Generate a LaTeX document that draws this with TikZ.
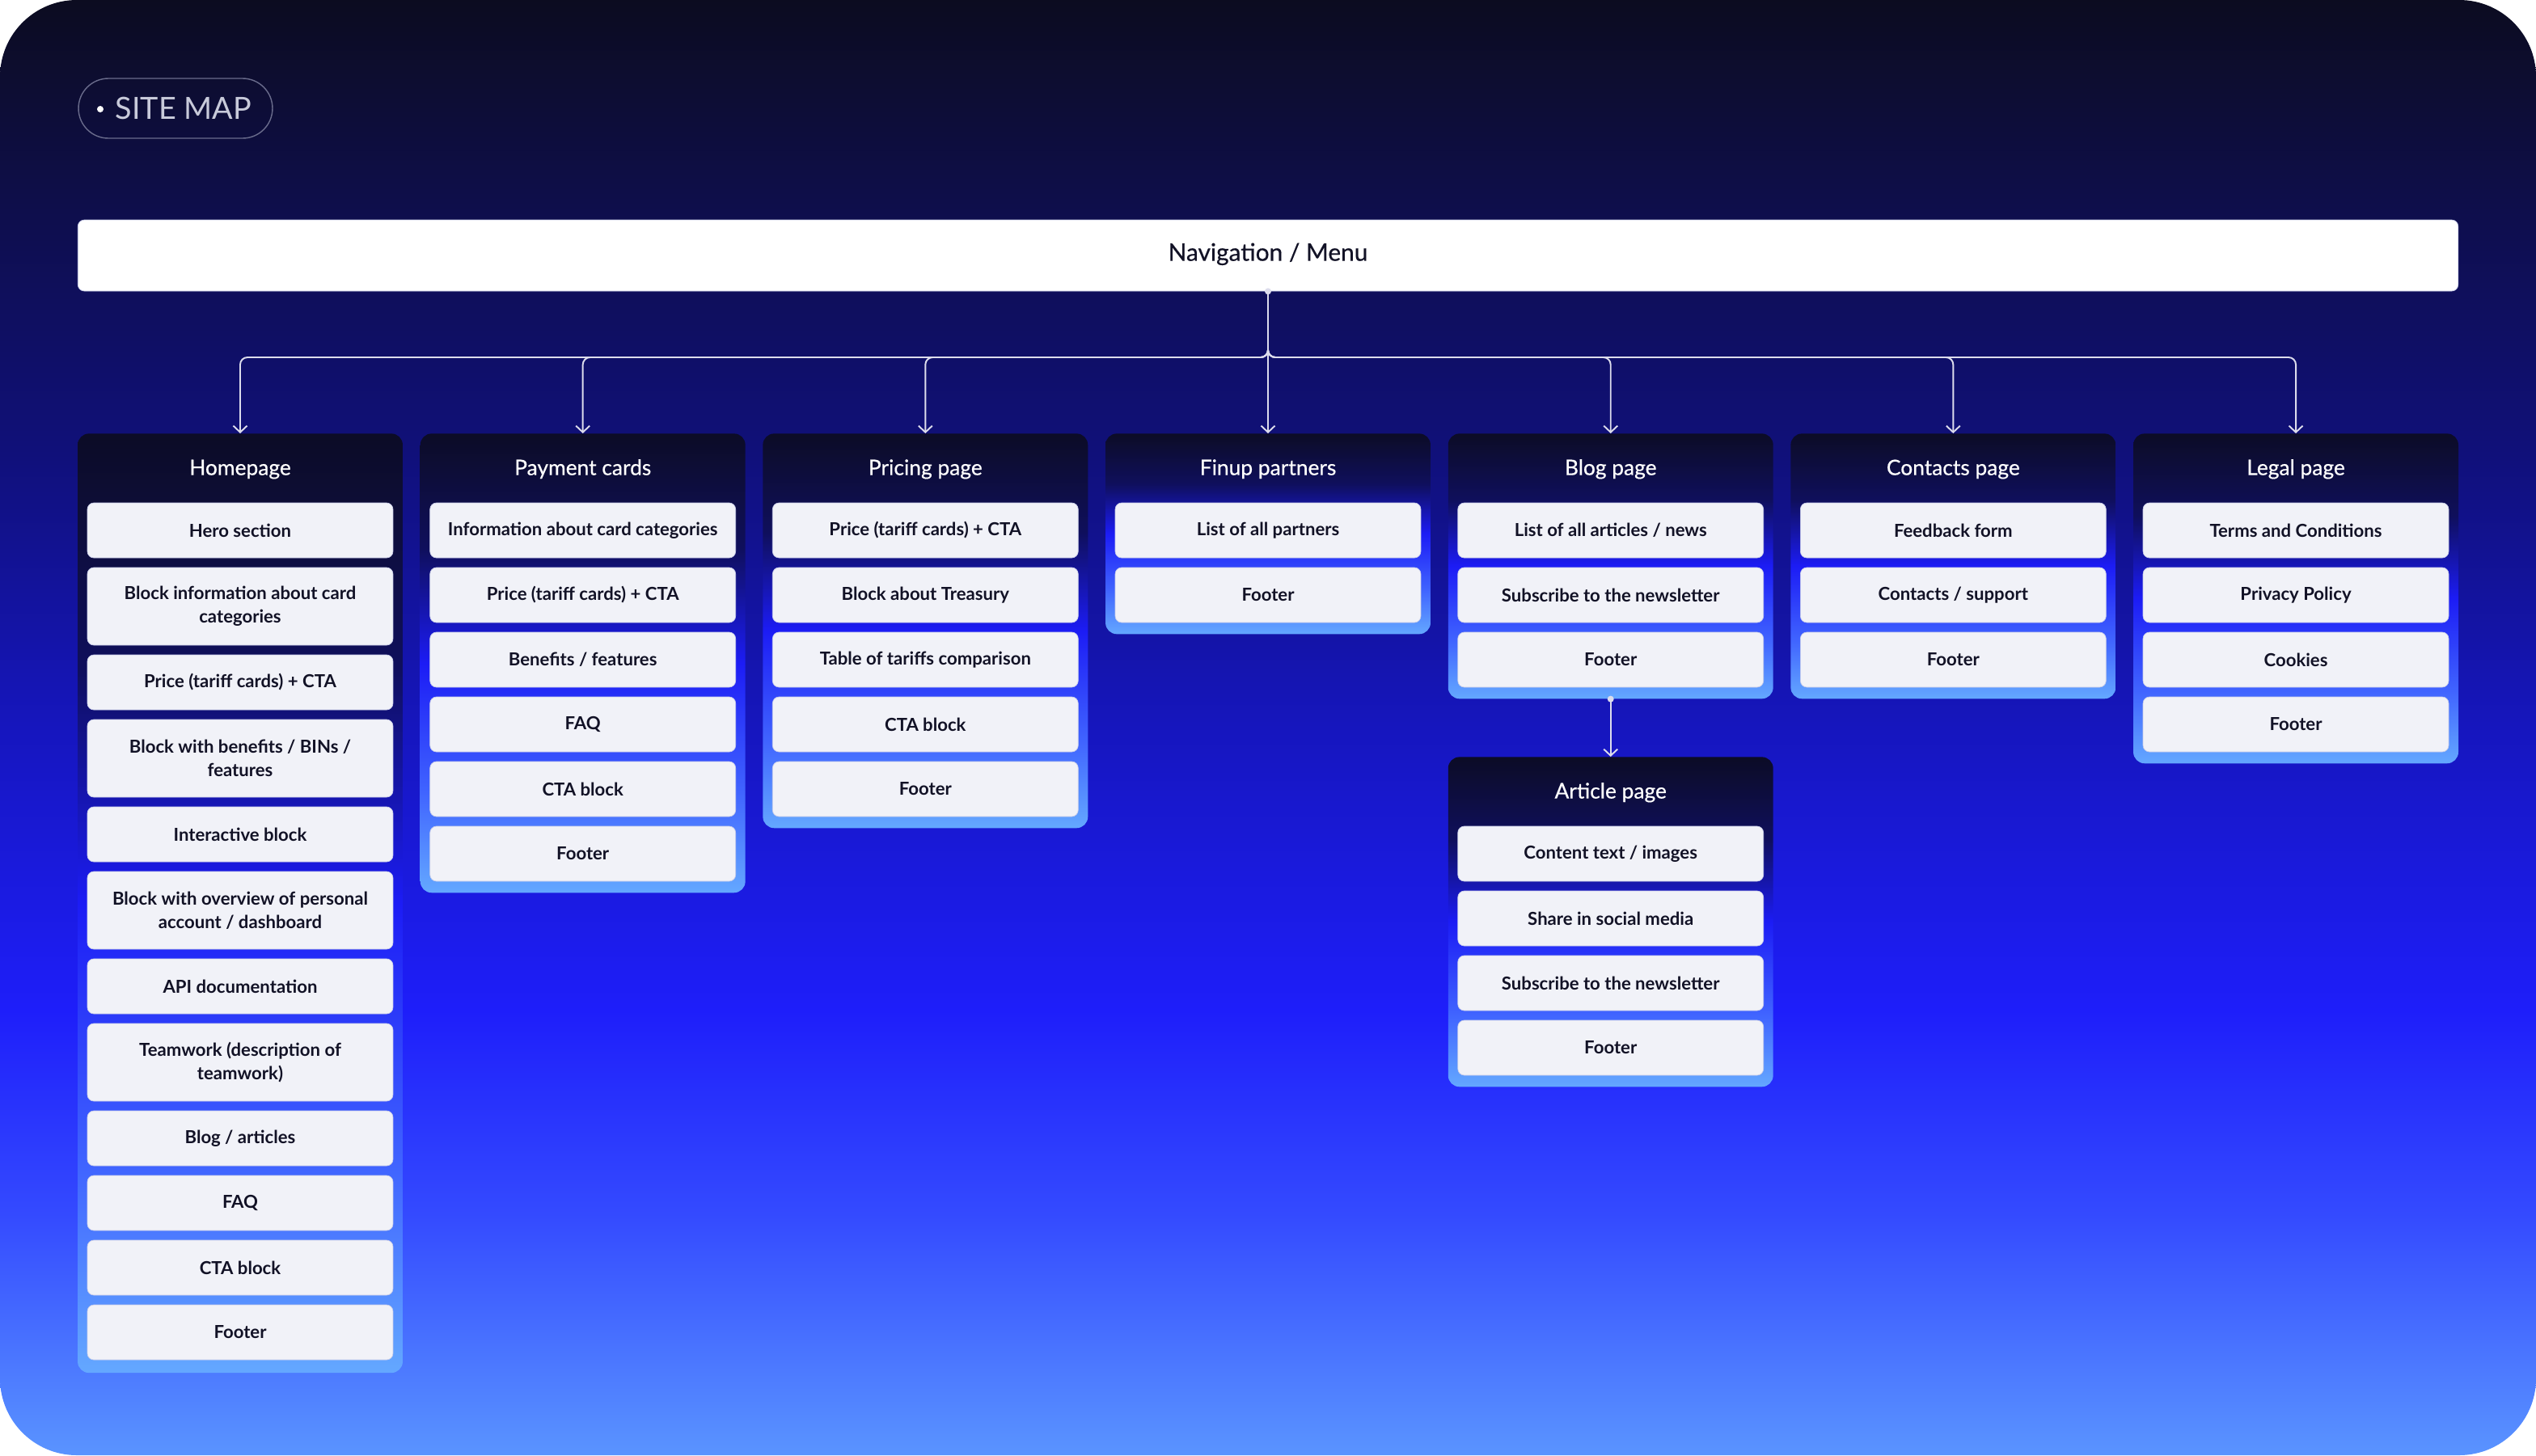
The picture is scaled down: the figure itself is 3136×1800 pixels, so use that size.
\documentclass[tikz,border=0pt]{standalone}
\usepackage{fontspec}
\setmainfont{Lato}
\newfontfamily\medfont{Lato}[FakeBold=0.5]
\usetikzlibrary{arrows.meta}

\definecolor{bgA}{RGB}{12,12,32}
\definecolor{bgB}{RGB}{14,14,74}
\definecolor{bgC}{RGB}{16,16,122}
\definecolor{bgD}{RGB}{22,22,190}
\definecolor{bgE}{RGB}{30,30,250}
\definecolor{bgF}{RGB}{52,74,255}
\definecolor{bgG}{RGB}{90,148,255}
\definecolor{cdA}{RGB}{12,12,38}
\definecolor{cdB}{RGB}{15,15,92}
\definecolor{cdC}{RGB}{28,28,245}
\definecolor{cdD}{RGB}{64,100,255}
\definecolor{cdE}{RGB}{100,168,255}
\definecolor{itemfill}{RGB}{241,242,248}
\definecolor{itemline}{RGB}{200,204,232}
\definecolor{itemtext}{RGB}{18,18,38}
\definecolor{linkcol}{RGB}{220,220,236}
\definecolor{pillline}{RGB}{106,108,140}
\definecolor{pilltext}{RGB}{200,202,218}

\pgfdeclareverticalshading{bgshade}{100bp}{color(0bp)=(bgG); color(25bp)=(bgG); color(33.3bp)=(bgF); color(40.3bp)=(bgE); color(50bp)=(bgD); color(59.4bp)=(bgC); color(68.1bp)=(bgB); color(75bp)=(bgA); color(100bp)=(bgA)}
\pgfdeclareverticalshading{cardshade}{100bp}{color(0bp)=(cdE); color(25bp)=(cdE); color(36bp)=(cdD); color(50bp)=(cdC); color(62.5bp)=(cdB); color(75bp)=(cdA); color(100bp)=(cdA)}

\tikzset{
  pill/.style={draw=pillline, line width=0.8pt, rounded corners=0.74cm, minimum width=4.8cm, minimum height=1.48cm, text=pilltext, font=\fontsize{21.5}{25}\selectfont},
  navbar/.style={fill=white, draw=itemline, line width=0.4pt, rounded corners=0.16cm, minimum width=58.88cm, minimum height=1.76cm, text height=0.75em, text depth=0pt, text=itemtext, font=\medfont\fontsize{17}{20}\selectfont},
  card/.style={anchor=north, shading=cardshade, shade, rounded corners=0.28cm, minimum width=8.04cm, inner sep=0pt},
  pagetitle/.style={text=white, text height=0.75em, text depth=0pt, font=\medfont\fontsize{15}{18}\selectfont},
  item/.style={fill=itemfill, draw=itemline, line width=0.4pt, rounded corners=0.16cm, minimum width=7.56cm, minimum height=1.36cm, inner sep=0pt, align=center, text=itemtext, font=\bfseries\fontsize{12.6}{16.4}\selectfont},
  item2/.style={item, minimum height=1.92cm},
  link/.style={draw=linkcol, line width=1.1pt, rounded corners=0.18cm, -{Straight Barb[length=1.6mm,width=3.4mm]}},
}

\begin{document}
\begin{tikzpicture}[x=0.02cm,y=-0.02cm]
  \useasboundingbox (0,0) rectangle (3136,1800);
  \shade[shading=bgshade, rounded corners=1.9cm] (0,0) rectangle (3136,1800);

  \node[pill] (sitemap) at (217,134) {\hspace*{0.4cm}SITE MAP};
  \fill[white] (124,135) circle (0.08cm);

  \node[navbar] (nav) at (1568,316) {Navigation / Menu};
  \coordinate (bus) at (1568,442);

  \node[card, minimum height=23.24cm] (home) at (297,536) {};
  \node[pagetitle] (hometitle) at (297,581) {Homepage};
  \node[item] (h1) at (297,656) {Hero section};
  \node[item2] (h2) at (297,750) {Block information about card\\categories};
  \node[item] (h3) at (297,844) {Price (tariff cards) + CTA};
  \node[item2] (h4) at (297,938) {Block with benefits / BINs /\\features};
  \node[item] (h5) at (297,1032) {Interactive block};
  \node[item2] (h6) at (297,1126) {Block with overview of personal\\account / dashboard};
  \node[item] (h7) at (297,1220) {API documentation};
  \node[item2] (h8) at (297,1314) {Teamwork (description of\\teamwork)};
  \node[item] (h9) at (297,1408) {Blog / articles};
  \node[item] (h10) at (297,1488) {FAQ};
  \node[item] (h11) at (297,1568) {CTA block};
  \node[item] (h12) at (297,1648) {Footer};

  \node[card, minimum height=11.36cm] (cards) at (720.7,536) {};
  \node[pagetitle] (cardstitle) at (720.7,581) {Payment cards};
  \node[item] (c1) at (720.7,656) {Information about card categories};
  \node[item] (c2) at (720.7,736) {Price (tariff cards) + CTA};
  \node[item] (c3) at (720.7,816) {Benefits / features};
  \node[item] (c4) at (720.7,896) {FAQ};
  \node[item] (c5) at (720.7,976) {CTA block};
  \node[item] (c6) at (720.7,1056) {Footer};

  \node[card, minimum height=9.76cm] (pricing) at (1144.3,536) {};
  \node[pagetitle] (pricingtitle) at (1144.3,581) {Pricing page};
  \node[item] (p1) at (1144.3,656) {Price (tariff cards) + CTA};
  \node[item] (p2) at (1144.3,736) {Block about Treasury};
  \node[item] (p3) at (1144.3,816) {Table of tariffs comparison};
  \node[item] (p4) at (1144.3,896) {CTA block};
  \node[item] (p5) at (1144.3,976) {Footer};

  \node[card, minimum height=4.96cm] (partners) at (1568,536) {};
  \node[pagetitle] (partnerstitle) at (1568,581) {Finup partners};
  \node[item] (f1) at (1568,656) {List of all partners};
  \node[item] (f2) at (1568,736) {Footer};

  \node[card, minimum height=6.56cm] (blog) at (1991.7,536) {};
  \node[pagetitle] (blogtitle) at (1991.7,581) {Blog page};
  \node[item] (b1) at (1991.7,656) {List of all articles / news};
  \node[item] (b2) at (1991.7,736) {Subscribe to the newsletter};
  \node[item] (b3) at (1991.7,816) {Footer};

  \node[card, minimum height=6.56cm] (contacts) at (2415.3,536) {};
  \node[pagetitle] (contactstitle) at (2415.3,581) {Contacts page};
  \node[item] (k1) at (2415.3,656) {Feedback form};
  \node[item] (k2) at (2415.3,736) {Contacts / support};
  \node[item] (k3) at (2415.3,816) {Footer};

  \node[card, minimum height=8.16cm] (legal) at (2839,536) {};
  \node[pagetitle] (legaltitle) at (2839,581) {Legal page};
  \node[item] (l1) at (2839,656) {Terms and Conditions};
  \node[item] (l2) at (2839,736) {Privacy Policy};
  \node[item] (l3) at (2839,816) {Cookies};
  \node[item] (l4) at (2839,896) {Footer};

  \node[card, minimum height=8.16cm] (article) at (1991.7,936) {};
  \node[pagetitle] (articletitle) at (1991.7,981) {Article page};
  \node[item] (a1) at (1991.7,1056) {Content text / images};
  \node[item] (a2) at (1991.7,1136) {Share in social media};
  \node[item] (a3) at (1991.7,1216) {Subscribe to the newsletter};
  \node[item] (a4) at (1991.7,1296) {Footer};

  \fill[linkcol] (nav.south) circle (0.08cm);
  \foreach \page in {home,cards,pricing,blog,contacts,legal}
    \draw[link] (nav.south) -- (bus) -| (\page.north);
  \draw[link] (nav.south) -- (partners.north);
  \fill[linkcol] (blog.south) circle (0.08cm);
  \draw[link] (blog.south) -- (article.north);
\end{tikzpicture}
\end{document}
